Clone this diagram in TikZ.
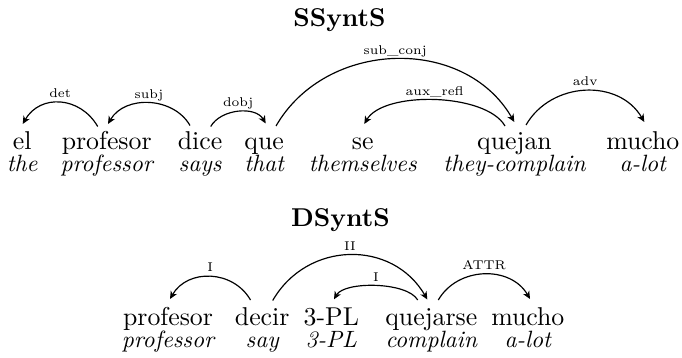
\documentclass[tikz,border=0pt]{standalone}
\usetikzlibrary{calc,arrows.meta}
\tikzset{
  word/.style={anchor=base, inner sep=0pt, font=\fontsize{10.95}{13}\selectfont},
  gloss/.style={anchor=base, inner sep=0pt, font=\fontsize{10}{12}\selectfont\itshape},
  ttl/.style={anchor=base, inner sep=0pt, font=\fontsize{10.95}{13}\selectfont\bfseries},
  lbl/.style={anchor=base, inner sep=0pt, font=\fontsize{6}{7}\selectfont, scale=0.9, yshift=2.3pt},
  deparc/.style={-{Stealth[length=3.3pt,width=3pt,inset=1pt]}, line width=0.5pt},
}
\begin{document}
\begin{tikzpicture}[x=0.4244pt, y=0.4244pt]
\useasboundingbox (0,0) rectangle (682,-358);
% titles
\node[ttl] (t1) at (339.5,-27) {SSyntS};
\node[ttl] (t2) at (340.5,-227) {DSyntS};
% SSyntS words
\node[word] (w1) at (22.2,-150) {el};
\node[word] (w2) at (106.7,-150) {profesor};
\node[word] (w3) at (200,-150) {dice};
\node[word] (w4) at (264.2,-150) {que};
\node[word] (w5) at (362.8,-150) {se};
\node[word] (w6) at (514.5,-150) {quejan};
\node[word] (w7) at (642.8,-150) {mucho};
% SSyntS glosses
\node[gloss] (g1) at (22.2,-172) {the};
\node[gloss] (g2) at (106.7,-172) {professor};
\node[gloss] (g3) at (200,-172) {says};
\node[gloss] (g4) at (264.2,-172) {that};
\node[gloss] (g5) at (362.8,-172) {themselves};
\node[gloss] (g6) at (514.5,-172) {they-complain};
\node[gloss] (g7) at (642.8,-172) {a-lot};
% SSyntS arcs
\draw[deparc] ($(w2.base)+(-9,23.5)$) .. controls +(-17.5,30.3) and +(17.5,30.3) .. ($(w1.base)+(0.5,26)$) node[lbl,pos=0.5] (l1) {det};
\draw[deparc] ($(w3.base)+(-10,24.5)$) .. controls +(-16.7,29) and +(16.7,29) .. ($(w2.base)+(1.3,26)$) node[lbl,pos=0.5] (l2) {subj};
\draw[deparc] ($(w3.base)+(10.7,23.5)$) .. controls +(10.2,17.7) and +(-10.2,17.7) .. ($(w4.base)+(1.5,26.5)$) node[lbl,pos=0.5] (l3) {dobj};
\draw[deparc] ($(w4.base)+(11.8,24)$) .. controls +(50,86.7) and +(-50,86.7) .. ($(w6.base)+(-0.2,28)$) node[lbl,pos=0.5] (l4) {sub\_conj};
\draw[deparc] ($(w6.base)+(-9.5,24)$) .. controls +(-19.2,33.3) and +(19.2,33.3) .. ($(w5.base)+(1.5,26)$) node[lbl,pos=0.5] (l5) {aux\_refl};
\draw[deparc] ($(w6.base)+(11.5,25)$) .. controls +(25.2,43.7) and +(-25.2,43.7) .. ($(w7.base)+(1.5,28)$) node[lbl,pos=0.5] (l6) {adv};
% DSyntS words
\node[word] (v1) at (168,-326) {profesor};
\node[word] (v2) at (262.2,-326) {decir};
\node[word] (v3) at (331.3,-326) {3-PL};
\node[word] (v4) at (431.3,-326) {quejarse};
\node[word] (v5) at (527.8,-326) {mucho};
% DSyntS glosses
\node[gloss] (h1) at (168,-348) {professor};
\node[gloss] (h2) at (262.2,-348) {say};
\node[gloss] (h3) at (331.3,-348) {3-PL};
\node[gloss] (h4) at (431.3,-348) {complain};
\node[gloss] (h5) at (527.8,-348) {a-lot};
% DSyntS arcs
\draw[deparc] ($(v2.base)+(-11.7,26)$) .. controls +(-17.5,30.4) and +(17.5,30.4) .. ($(v1.base)+(2,27)$) node[lbl,pos=0.5] (m1) {I};
\draw[deparc] ($(v2.base)+(10.5,25.5)$) .. controls +(34.6,60) and +(-34.6,60) .. ($(v4.base)+(-4,26.5)$) node[lbl,pos=0.5] (m2) {II};
\draw[deparc] ($(v4.base)+(-13.6,26)$) .. controls +(-10.5,18.3) and +(10.5,18.3) .. ($(v3.base)+(2.7,26.7)$) node[lbl,pos=0.5] (m3) {I};
\draw[deparc] ($(v4.base)+(7,26)$) .. controls +(19.4,33.6) and +(-19.4,33.6) .. ($(v5.base)+(2.2,27)$) node[lbl,pos=0.5] (m4) {ATTR};
\end{tikzpicture}
\end{document}
